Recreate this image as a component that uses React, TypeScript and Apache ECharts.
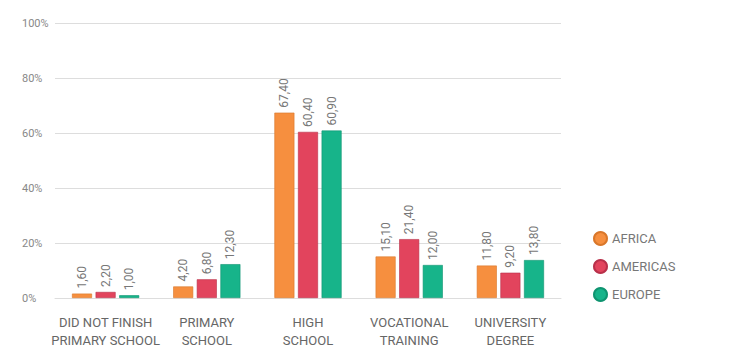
import React, { useEffect, useRef } from "react";
import * as echarts from "echarts";

const categories = [
  "DID NOT FINISH\nPRIMARY SCHOOL",
  "PRIMARY\nSCHOOL",
  "HIGH\nSCHOOL",
  "VOCATIONAL\nTRAINING",
  "UNIVERSITY\nDEGREE",
];
const africa = [1.6, 4.2, 67.4, 15.1, 11.8];
const americas = [2.2, 6.8, 60.4, 21.4, 9.2];
const europe = [1.0, 12.3, 60.9, 12.0, 13.8];
const seriesNames = ["AFRICA", "AMERICAS", "EUROPE"];
const colors = ["#F68F3F", "#E2445D", "#17B48A"];
const borders = ["#d9772a", "#b8304a", "#0f9470"];

const FONT = "'Liberation Sans Narrow', 'Roboto', 'Liberation Sans', sans-serif";

export default function App() {
  const ref = useRef<HTMLDivElement>(null);
  useEffect(() => {
    if (!ref.current) return;
    const chart = echarts.init(ref.current, null, { renderer: "svg" });
    const data = [africa, americas, europe];
    chart.setOption({
      animation: false,
      backgroundColor: "#ffffff",
      textStyle: { fontFamily: FONT },
      grid: { left: 47, top: 15, width: 506, height: 275, containLabel: false },
      legend: {
        orient: "vertical",
        left: 580,
        top: 218,
        itemGap: 13,
        icon: "circle",
        itemWidth: 13,
        itemHeight: 13,
        textStyle: { color: "#777", fontSize: 13, fontFamily: FONT },
        data: seriesNames,
      },
      xAxis: {
        type: "category",
        data: categories,
        axisLine: { show: true, lineStyle: { color: "#ddd" } },
        axisTick: { show: false },
        axisLabel: {
          color: "#666",
          fontSize: 13,
          lineHeight: 18,
          margin: 15,
          fontFamily: FONT,
          interval: 0,
        },
      },
      yAxis: {
        type: "value",
        min: 0,
        max: 100,
        interval: 20,
        axisLine: { show: false },
        axisTick: { show: false },
        splitLine: { lineStyle: { color: "#ddd", width: 1 } },
        axisLabel: {
          formatter: "{value}%",
          color: "#888",
          fontSize: 11,
          fontFamily: FONT,
          align: "left",
          margin: 33,
        },
      },
      series: seriesNames.map((name, i) => ({
        name,
        type: "bar",
        data: data[i],
        barWidth: 20,
        barGap: "18%",
        itemStyle: { color: colors[i], borderColor: borders[i], borderWidth: 0.6 },
        label: {
          show: true,
          position: "top",
          rotate: 90,
          align: "left",
          verticalAlign: "middle",
          distance: 5,
          color: "#777",
          fontSize: 12,
          fontFamily: FONT,
          formatter: (p: any) => Number(p.value).toFixed(2).replace(".", ","),
        },
      })),
    });
    return () => chart.dispose();
  }, []);
  return <div ref={ref} style={{ width: 714, height: 344 }} />;
}
